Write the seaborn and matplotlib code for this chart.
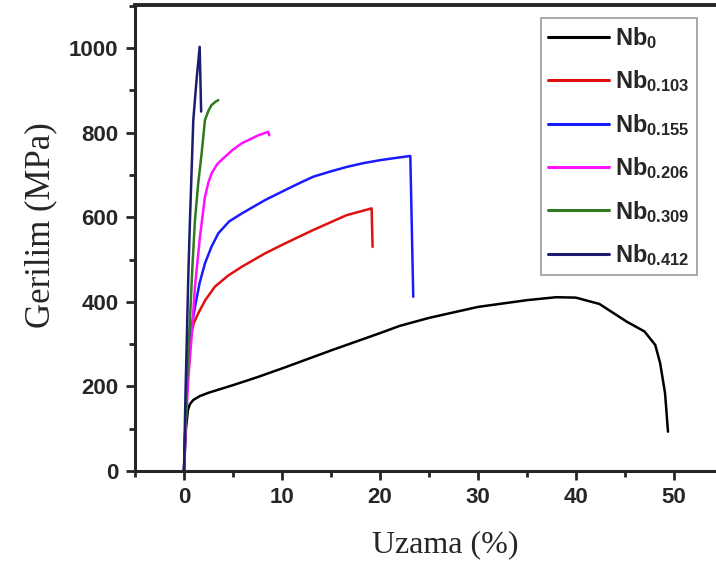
import numpy as np
import pandas as pd
import matplotlib
matplotlib.use("Agg")
import matplotlib.pyplot as plt
import seaborn as sns
from matplotlib.ticker import MultipleLocator

# ---- data ----
labels = [r"$\mathbf{Nb_{0}}$", r"$\mathbf{Nb_{0.103}}$", r"$\mathbf{Nb_{0.155}}$",
          r"$\mathbf{Nb_{0.206}}$", r"$\mathbf{Nb_{0.309}}$", r"$\mathbf{Nb_{0.412}}$"]
colors = ["#000000", "#e01010", "#1a1aff", "#ff10ff", "#2f7a1f", "#1c1c70"]

nb0_x = [0.0, 0.2, 0.4, 0.6, 0.95, 1.6, 2.5, 5.0, 7.5, 10.3, 15, 20, 22, 25, 30, 35, 38, 40, 42.4, 45.2, 47, 48.1, 48.6, 49.1, 49.4]
nb0_y = [0, 100, 144, 158, 168, 177, 185, 203, 222, 245, 285, 326, 343, 362, 388, 404, 411, 410, 395, 353, 330, 298, 255, 184, 93]

nb103_x = [0.0, 0.2, 0.4, 0.61, 1.0, 1.46, 2.2, 3.16, 4.5, 5.9, 8.3, 10.3, 13.2, 16.6, 19.15, 19.25]
nb103_y = [0, 150, 250, 310, 350, 373, 405, 436, 462, 483, 515, 538, 570, 605, 621, 530]

nb155_x = [0.0, 0.2, 0.4, 0.61, 1.12, 1.6, 2.14, 2.8, 3.5, 4.6, 5.9, 8.3, 10.3, 11.8, 13.2, 14.9, 16.6, 18.3, 20.0, 21.5, 23.1, 23.4]
nb155_y = [0, 150, 250, 318, 388, 445, 491, 530, 562, 590, 609, 641, 664, 681, 696, 708, 719, 728, 735, 740, 745, 412]

nb206_x = [0.0, 0.2, 0.45, 0.78, 1.12, 1.63, 2.14, 2.5, 2.82, 3.4, 4.18, 5.0, 5.9, 7.6, 8.6, 8.7]
nb206_y = [0, 120, 220, 318, 436, 554, 648, 683, 704, 726, 743, 760, 775, 794, 802, 794]

nb309_x = [0.0, 0.2, 0.4, 0.61, 0.85, 1.12, 1.45, 1.8, 2.14, 2.5, 2.8, 3.2, 3.5]
nb309_y = [0, 150, 260, 357, 480, 593, 680, 751, 830, 852, 865, 873, 877]

nb412_x = [0.0, 0.15, 0.27, 0.45, 0.61, 0.95, 1.3, 1.6, 1.75]
nb412_y = [0, 180, 294, 470, 593, 830, 930, 1003, 850]

series_x = [nb0_x, nb103_x, nb155_x, nb206_x, nb309_x, nb412_x]
series_y = [nb0_y, nb103_y, nb155_y, nb206_y, nb309_y, nb412_y]

rows = []
for lab, xs, ys in zip(labels, series_x, series_y):
    for a, b in zip(xs, ys):
        rows.append({"strain": a, "stress": b, "alloy": lab})
df = pd.DataFrame(rows)

sns.set_style("ticks")
plt.rcParams["font.family"] = ["Liberation Sans", "DejaVu Sans"]
plt.rcParams["mathtext.fontset"] = "custom"
plt.rcParams["mathtext.bf"] = "Liberation Sans:bold"
plt.rcParams["mathtext.rm"] = "Liberation Sans"

fig = plt.figure(figsize=(7.16, 5.64), dpi=100)
ax = fig.add_axes([135 / 716, 93 / 564, 1 - 135 / 716, 466 / 564])

sns.lineplot(data=df, x="strain", y="stress", hue="alloy", hue_order=labels,
             palette=colors, sort=False, estimator=None, linewidth=1.8, ax=ax)

ax.set_xlim(-5, 54.3)
ax.set_ylim(0, 1102)
ax.xaxis.set_major_locator(MultipleLocator(10))
ax.xaxis.set_minor_locator(MultipleLocator(5))
ax.yaxis.set_major_locator(MultipleLocator(200))
ax.yaxis.set_minor_locator(MultipleLocator(100))
ax.tick_params(which="major", direction="out", length=6.5, width=2, labelsize=16, pad=5)
ax.tick_params(axis="y", which="major", pad=5.5)
ax.tick_params(which="minor", direction="out", length=4, width=2)
for t in ax.get_xticklabels() + ax.get_yticklabels():
    t.set_fontweight("bold")
for s in ["left", "bottom"]:
    ax.spines[s].set_linewidth(2.2)
ax.spines["top"].set_linewidth(2.8)
ax.spines["right"].set_visible(False)

ax.set_xlabel("Uzama (%)", family="Liberation Serif", fontsize=23)
ax.set_ylabel("Gerilim (MPa)", family="Liberation Serif", fontsize=25)
ax.xaxis.label.set_va("center")
ax.yaxis.label.set_va("center")
ax.xaxis.set_label_coords(0.534, -0.159)
ax.yaxis.set_label_coords(-0.162, 0.528)

leg = ax.legend(loc="upper right", bbox_to_anchor=(0.967, 0.972), borderaxespad=0,
                fontsize=17, handlelength=2.6, labelspacing=0.74, fancybox=False,
                frameon=True, edgecolor="#808080", borderpad=0.3, handletextpad=0.25)
leg.get_frame().set_linewidth(1.2)
for line in leg.get_lines():
    line.set_linewidth(2.2)

fig.savefig("out.png", dpi=100)
